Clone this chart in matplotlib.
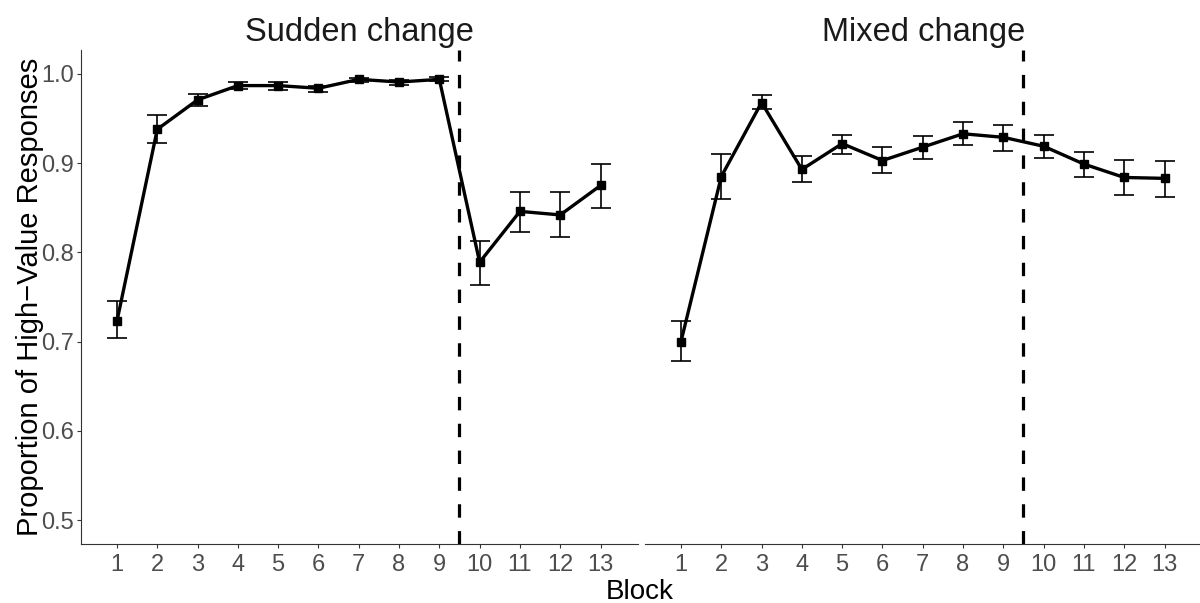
"""Proportion of high-value responses per block, sudden vs mixed change."""

import matplotlib

matplotlib.use("Agg")
import matplotlib.pyplot as plt
import numpy as np

plt.rcParams["font.family"] = ["Liberation Sans", "DejaVu Sans"]

blocks = np.arange(1, 14)
block_labels = [str(b) for b in blocks]

sudden_mean = [0.723, 0.938, 0.971, 0.987, 0.987, 0.984, 0.994, 0.991, 0.994, 0.789, 0.846, 0.842, 0.875]
sudden_upper = [0.745, 0.954, 0.978, 0.991, 0.991, 0.987, 0.996, 0.993, 0.997, 0.813, 0.868, 0.868, 0.899]
sudden_lower = [0.704, 0.923, 0.964, 0.983, 0.982, 0.980, 0.991, 0.988, 0.992, 0.764, 0.823, 0.817, 0.850]

mixed_mean = [0.700, 0.885, 0.968, 0.893, 0.922, 0.903, 0.918, 0.933, 0.929, 0.919, 0.899, 0.884, 0.883]
mixed_upper = [0.723, 0.910, 0.976, 0.908, 0.932, 0.918, 0.931, 0.946, 0.943, 0.932, 0.913, 0.904, 0.903]
mixed_lower = [0.678, 0.860, 0.961, 0.879, 0.910, 0.889, 0.905, 0.920, 0.914, 0.906, 0.885, 0.864, 0.862]

panels = [
    ("Sudden change", sudden_mean, sudden_upper, sudden_lower),
    ("Mixed change", mixed_mean, mixed_upper, mixed_lower),
]
change_point = 9.5
y_ticks = [0.5, 0.6, 0.7, 0.8, 0.9, 1.0]

W, H = 1200, 603
fig = plt.figure(figsize=(W / 100, H / 100), dpi=100)
ax_left = fig.add_axes([81 / W, 59 / H, 557 / W, 494 / H])
ax_right = fig.add_axes([645 / W, 59 / H, 557 / W, 494 / H])

for ax, (title, mean, upper, lower) in zip([ax_left, ax_right], panels):
    mean = np.array(mean)
    err = [mean - np.array(lower), np.array(upper) - mean]
    ax.errorbar(blocks, mean, yerr=err, fmt="none", ecolor="black",
                elinewidth=1.2, capsize=7.3, capthick=1.2, zorder=2)
    ax.plot(blocks, mean, color="black", linewidth=2.4, marker="s",
            markersize=6, zorder=3)
    ax.axvline(change_point, color="black", linewidth=2.3,
               linestyle=(0, (4.2, 4.2)), zorder=1)
    ax.set_xlim(0.107, 13.93)
    ax.set_ylim(0.4731, 1.0269)
    ax.set_xticks(blocks)
    ax.set_xticklabels(block_labels)
    ax.text(0.5, 1.036, title, transform=ax.transAxes, ha="center",
            va="center", fontsize=23.5, color="#1a1a1a")
    for side in ["top", "right"]:
        ax.spines[side].set_visible(False)
    ax.spines["bottom"].set_color("#333333")
    ax.spines["left"].set_color("#333333")
    ax.tick_params(axis="both", colors="#333333", labelcolor="#4D4D4D",
                   labelsize=17, length=3, width=0.8, pad=4)

ax_left.tick_params(axis="y", pad=2)
ax_left.set_yticks(y_ticks)
ax_left.set_yticklabels([f"{v:.1f}" for v in y_ticks])
ax_left.set_ylabel("Proportion of High\u2212Value Responses", fontsize=21)
# label baseline sits just left of the tick labels
ax_left.yaxis.set_label_coords(-37 / 557, 0.5)

ax_right.spines["left"].set_visible(False)
ax_right.set_yticks([])

fig.text(640 / W, 1 - 592 / H, "Block", ha="center", va="center", fontsize=20)

fig.savefig("out.png", dpi=100)
